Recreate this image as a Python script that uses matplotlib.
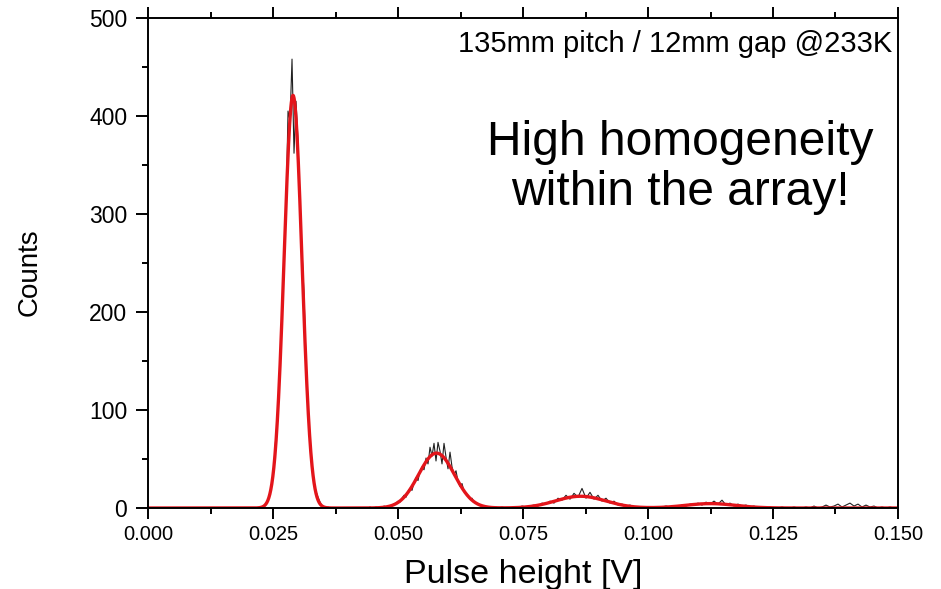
import numpy as np
import matplotlib
matplotlib.use("Agg")
import matplotlib.pyplot as plt
from matplotlib.ticker import MultipleLocator, FormatStrFormatter

plt.rcParams['font.family'] = ['Liberation Sans', 'DejaVu Sans']

# measured spectrum, 0.4 mV bins from 20 mV up to 70 mV
start_a, step_a = 0.0200, 0.0004
counts_a = [
    0, 0, 0, 0, 0, 0, 1, 0, 2, 5,
    7, 17, 24, 46, 75, 98, 151, 190, 259, 302,
    405, 395, 458, 362, 415, 375, 300, 262, 218, 150,
    108, 62, 45, 24, 17, 11, 6, 2, 1, 0,
    1, 0, 0, 0, 0, 0, 0, 0, 0, 0,
    0, 0, 0, 0, 0, 0, 0, 0, 0, 0,
    0, 1, 0, 0, 1, 0, 1, 0, 2, 1,
    2, 1, 3, 4, 5, 7, 6, 10, 13, 11,
    17, 20, 18, 26, 31, 28, 38, 42, 39, 51,
    45, 62, 53, 66, 48, 67, 58, 45, 66, 52,
    40, 57, 42, 34, 38, 27, 22, 25, 17, 15,
    13, 9, 10, 6, 5, 4, 3, 2, 2, 1,
    1, 0, 1, 0, 1,
]

# 0.8 mV bins from 70 mV to the end of the range
start_b, step_b = 0.0700, 0.0008
counts_b = [
    0, 1, 0, 0, 1, 0, 2, 1, 2, 3,
    2, 5, 4, 7, 5, 10, 8, 13, 9, 15,
    11, 20, 10, 16, 9, 13, 7, 10, 5, 7,
    3, 4, 2, 3, 1, 1, 0, 1, 0, 1,
    0, 1, 2, 1, 2, 1, 3, 2, 4, 3,
    5, 3, 6, 4, 7, 4, 8, 3, 5, 2,
    4, 2, 3, 1, 2, 0, 1, 0, 1, 0,
    0, 1, 0, 0, 1, 0, 0, 1, 0, 2,
    0, 1, 3, 1, 2, 4, 1, 3, 5, 2,
    4, 1, 3, 1, 2, 0, 1, 0, 1, 0,
]

# multi-gaussian fit: 1, 2, 3, 4 photoelectron peaks
fit_amp = [421.0, 56.0, 12.0, 4.5]
fit_center = [0.0290, 0.0577, 0.0865, 0.1125]
fit_sigma = [0.00178, 0.0036, 0.0050, 0.0050]

x_a = start_a + step_a * np.arange(len(counts_a))
x_b = start_b + step_b * np.arange(len(counts_b))
x_data = np.concatenate([x_a, x_b])
y_data = np.array(counts_a + counts_b, dtype=float)

x_fit = np.linspace(0.0, 0.150, 3000)
y_fit = np.zeros_like(x_fit)
for a, mu, s in zip(fit_amp, fit_center, fit_sigma):
    y_fit += a * np.exp(-(x_fit - mu) ** 2 / (2 * s ** 2))

fig = plt.figure(figsize=(9.41, 5.89), dpi=100)
ax = fig.add_axes([0.1573, 0.1375, 0.797, 0.832])

ax.plot(x_data, y_data, color='#222222', lw=0.8)
ax.plot(x_fit, y_fit, color='#e3151b', lw=2.4)

ax.set_xlim(0, 0.150)
ax.set_ylim(0, 500)
ax.xaxis.set_major_locator(MultipleLocator(0.025))
ax.xaxis.set_minor_locator(MultipleLocator(0.0125))
ax.xaxis.set_major_formatter(FormatStrFormatter('%.3f'))
ax.yaxis.set_major_locator(MultipleLocator(100))
ax.yaxis.set_minor_locator(MultipleLocator(50))

for sp in ax.spines.values():
    sp.set_linewidth(1.4)
ax.tick_params(axis='x', which='both', bottom=True, top=True, direction='out',
               labelsize=14.5, pad=4, width=1.4)
ax.tick_params(axis='x', which='major', length=8)
ax.tick_params(axis='x', which='minor', length=4)
ax.tick_params(axis='y', which='both', left=True, right=False, direction='out',
               labelsize=16.5, pad=6, width=1.4)
ax.tick_params(axis='y', which='major', length=9)
ax.tick_params(axis='y', which='minor', length=4)

ax.set_xlabel('Pulse height [V]', fontsize=24.5)
ax.xaxis.set_label_coords(0.5, -0.105)

fig.text(29.5 / 941, 1 - 272 / 589, 'Counts', rotation=90, ha='center',
         va='center', fontsize=20)

ax.text(0.993, 0.9306, '135mm pitch / 12mm gap @233K', transform=ax.transAxes,
        ha='right', va='baseline', fontsize=21)

fig.text(680 / 941, 1 - 155 / 589, 'High homogeneity', ha='center',
         va='baseline', fontsize=34.5)
fig.text(680 / 941, 1 - 205 / 589, 'within the array!', ha='center',
         va='baseline', fontsize=34.5)

fig.savefig('out.png', dpi=100)
